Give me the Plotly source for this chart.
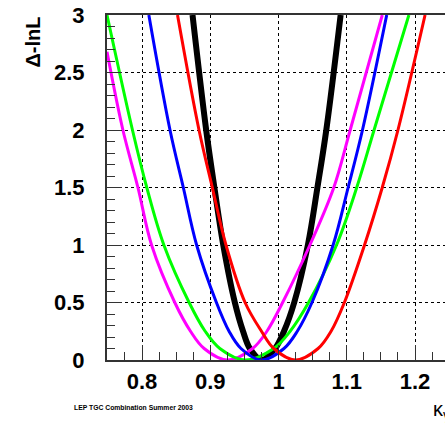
import plotly.graph_objects as go

# Read-off points (kappa, delta-lnL) for each curve
black_k = [0.874, 0.894, 0.906, 0.919, 0.936, 0.948, 0.958, 0.975, 0.995, 1.008, 1.023, 1.043, 1.057, 1.070, 1.091]
black_d = [3.0, 2.0, 1.5, 1.0, 0.5, 0.25, 0.1, 0.0, 0.1, 0.25, 0.5, 1.0, 1.5, 2.0, 3.0]

magenta_k = [0.7487, 0.772, 0.794, 0.814, 0.848, 0.871, 0.891, 0.925, 0.962, 0.983, 1.006, 1.046, 1.081, 1.105, 1.152]
magenta_d = [2.68, 2.0, 1.5, 1.0, 0.5, 0.25, 0.1, 0.0, 0.1, 0.25, 0.5, 1.0, 1.5, 2.0, 3.0]

green_k = [0.7487, 0.786, 0.807, 0.832, 0.869, 0.8925, 0.914, 0.951, 0.993, 1.017, 1.044, 1.085, 1.1146, 1.140, 1.191]
green_d = [3.0, 2.0, 1.5, 1.0, 0.5, 0.25, 0.1, 0.0, 0.1, 0.25, 0.5, 1.0, 1.5, 2.0, 3.0]

blue_k = [0.810, 0.841, 0.8605, 0.880, 0.909, 0.9275, 0.945, 0.975, 1.008, 1.0275, 1.049, 1.080, 1.102, 1.123, 1.1585]
blue_d = [3.0, 2.0, 1.5, 1.0, 0.5, 0.25, 0.1, 0.0, 0.1, 0.25, 0.5, 1.0, 1.5, 2.0, 3.0]

red_k = [0.852, 0.8835, 0.903, 0.923, 0.951, 0.975, 0.993, 1.025, 1.058, 1.077, 1.0965, 1.126, 1.152, 1.175, 1.2147]
red_d = [3.0, 2.0, 1.5, 1.0, 0.5, 0.25, 0.1, 0.0, 0.1, 0.25, 0.5, 1.0, 1.5, 2.0, 3.0]

x_ticks = [0.8, 0.9, 1.0, 1.1, 1.2]
x_tick_labels = ["0.8", "0.9", "1", "1.1", "1.2"]
y_ticks = [0, 0.5, 1, 1.5, 2, 2.5, 3]
y_tick_labels = ["0", "0.5", "1", "1.5", "2", "2.5", "3"]

FONT = "Liberation Sans"

fig = go.Figure()
series = [
    (black_k, black_d, "black", 6),
    (magenta_k, magenta_d, "#ff00ff", 3),
    (green_k, green_d, "#00ff00", 3),
    (blue_k, blue_d, "#0000ff", 3),
    (red_k, red_d, "#ff0000", 3),
]
for k, d, c, w in series:
    fig.add_trace(go.Scatter(x=k, y=d, mode="lines",
                             line=dict(color=c, width=w, shape="spline", smoothing=1.0),
                             hoverinfo="skip", showlegend=False))

axis_common = dict(
    showline=True, linecolor="#333333", linewidth=2,
    ticks="inside", ticklen=15, tickwidth=1, tickcolor="#333333",
    showgrid=True, gridcolor="black", gridwidth=1, griddash="3px,3px",
    zeroline=False,
    tickfont=dict(family=FONT, size=22, color="black", weight="bold"),
)

fig.update_xaxes(
    range=[0.7487, 1.2439], tickvals=x_ticks, ticktext=x_tick_labels,
    mirror=True, ticklabelstandoff=1,
    minor=dict(ticks="inside", ticklen=8, dtick=0.025, tick0=0.75, tickcolor="#333333", showgrid=False),
    **axis_common,
)
fig.update_yaxes(
    range=[0, 3], tickvals=y_ticks, ticktext=y_tick_labels,
    ticklabelstandoff=16,
    minor=dict(ticks="inside", ticklen=8, dtick=0.1, tick0=0, tickcolor="#333333", showgrid=False),
    **axis_common,
)

fig.add_annotation(text="<b>Δ-lnL</b>", textangle=-90, xref="paper", yref="paper",
                   x=-75 / 338, y=1.0, xanchor="center", yanchor="top", showarrow=False,
                   font=dict(family=FONT, size=20, color="black"))
fig.add_annotation(text="κ<sub>γ</sub>", xref="paper", yref="paper",
                   x=324 / 338, y=-50 / 345, xanchor="left", yanchor="middle", showarrow=False,
                   font=dict(family=FONT, size=20, color="black"))
fig.add_annotation(text="<b>LEP TGC Combination Summer 2003</b>", xref="paper", yref="paper",
                   x=-35 / 338, y=-47 / 345, xanchor="left", yanchor="middle", showarrow=False,
                   font=dict(family=FONT, size=6.8, color="black"))

fig.update_layout(
    width=445, height=425,
    margin=dict(l=107, r=0, t=15, b=65),
    paper_bgcolor="white", plot_bgcolor="white",
)

fig.write_html("out.html")
